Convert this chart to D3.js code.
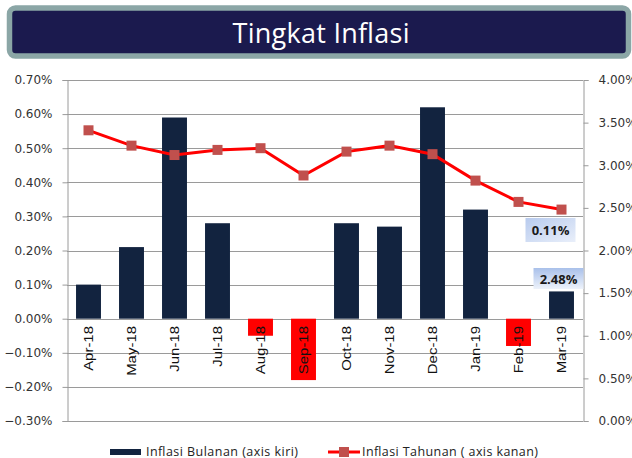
<!DOCTYPE html>
<html>
<head>
<meta charset="utf-8">
<script src="https://cdn.jsdelivr.net/npm/d3@7"></script>
<style>
  body { margin: 0; background: #fff; }
  svg { display: block; }
</style>
</head>
<body>
<div id="chart-area"></div>
<script>
// data
var months = ["Apr-18", "May-18", "Jun-18", "Jul-18", "Aug-18", "Sep-18",
              "Oct-18", "Nov-18", "Dec-18", "Jan-19", "Feb-19", "Mar-19"];
var monthly = [0.10, 0.21, 0.59, 0.28, -0.05, -0.18, 0.28, 0.27, 0.62, 0.32, -0.08, 0.08];
var annual = [3.41, 3.23, 3.12, 3.18, 3.20, 2.88, 3.16, 3.23, 3.13, 2.82, 2.57, 2.48];
var leftTicks = [-0.3, -0.2, -0.1, 0, 0.1, 0.2, 0.3, 0.4, 0.5, 0.6, 0.7];
var rightTicks = [0, 0.5, 1, 1.5, 2, 2.5, 3, 3.5, 4];
var notes = ["0.11%", "2.48%"];

var W = 632, H = 458;
var svg = d3.select("#chart-area").append("svg")
    .attr("width", W).attr("height", H);

var defs = svg.append("defs");
var g1 = defs.append("linearGradient").attr("id", "lab1")
    .attr("x1", 0).attr("y1", 0).attr("x2", 1).attr("y2", 1);
g1.append("stop").attr("offset", "0%").attr("stop-color", "#b8cbee");
g1.append("stop").attr("offset", "100%").attr("stop-color", "#e9effa");
var g2 = defs.append("linearGradient").attr("id", "lab2")
    .attr("x1", 0).attr("y1", 0).attr("x2", 0).attr("y2", 1);
g2.append("stop").attr("offset", "0%").attr("stop-color", "#a9c0ea");
g2.append("stop").attr("offset", "100%").attr("stop-color", "#eef3fb");

// title banner
svg.append("rect")
    .attr("x", 9.5).attr("y", 8)
    .attr("width", 619).attr("height", 48)
    .attr("rx", 6)
    .attr("fill", "#1b1a4e")
    .attr("stroke", "#8ba6a6").attr("stroke-width", 5.5);
svg.append("text")
    .attr("x", 321).attr("y", 43)
    .attr("text-anchor", "middle")
    .attr("font-family", "Open Sans")
    .attr("font-size", 27)
    .attr("fill", "#fff")
    .attr("textLength", 177)
    .text("Tingkat Inflasi");

var pL = 67, pR = 583, pT = 80, pB = 421;

var x = d3.scaleBand().domain(months).range([pL, pR]).paddingInner(0.42).paddingOuter(0.21);
var yL = d3.scaleLinear().domain([-0.3, 0.7]).range([pB, pT]);
var yR = d3.scaleLinear().domain([0, 4]).range([pB, pT]);

// gridlines
svg.append("g").selectAll("line").data(leftTicks).enter()
    .append("line")
    .attr("x1", pL).attr("x2", pR)
    .attr("y1", d => Math.round(yL(d)) + 0.5).attr("y2", d => Math.round(yL(d)) + 0.5)
    .attr("stroke", "#9a9a9a").attr("stroke-width", 1);

// bars
svg.append("g").selectAll("rect").data(monthly).enter()
    .append("rect")
    .attr("x", (d, i) => x(months[i]))
    .attr("width", x.bandwidth())
    .attr("y", d => yL(Math.max(0, d)))
    .attr("height", d => Math.abs(yL(d) - yL(0)))
    .attr("fill", d => d < 0 ? "#ff0000" : "#12233f");

// axes
var axL = svg.append("g").attr("transform", "translate(" + (pL + 0.5) + ",0)")
    .call(d3.axisLeft(yL).tickValues(leftTicks).tickSize(5).tickPadding(10)
        .tickFormat(d => d3.format(".2f")(d) + "%"));
var axR = svg.append("g").attr("transform", "translate(" + (pR + 0.5) + ",0)")
    .call(d3.axisRight(yR).tickValues(rightTicks).tickSize(5).tickPadding(10)
        .tickFormat(d => d3.format(".2f")(d) + "%"));
[axL, axR].forEach(a => {
    a.select(".domain").attr("stroke", "#9a9a9a");
    a.selectAll(".tick line").attr("stroke", "#9a9a9a");
    a.selectAll(".tick text")
        .attr("font-family", "DejaVu Sans").attr("font-size", 12).attr("fill", "#333");
});

// category labels
svg.append("g").selectAll("text").data(months).enter()
    .append("text")
    .attr("transform", d => "translate(" + (x(d) + x.bandwidth() / 2 + 4.5) + ",326) rotate(-90) scale(1.15,1)")
    .attr("text-anchor", "end")
    .attr("font-family", "Liberation Sans")
    .attr("font-size", 13)
    .attr("fill", "#111")
    .text(d => d);

// annual line
var line = d3.line()
    .x((d, i) => x(months[i]) + x.bandwidth() / 2)
    .y(d => yR(d));
svg.append("path").datum(annual)
    .attr("d", line)
    .attr("fill", "none")
    .attr("stroke", "#ff0000").attr("stroke-width", 3);
svg.append("g").selectAll("rect").data(annual).enter()
    .append("rect")
    .attr("x", (d, i) => x(months[i]) + x.bandwidth() / 2 - 5)
    .attr("y", d => yR(d) - 5)
    .attr("width", 10).attr("height", 10)
    .attr("fill", "#c0504d");

// annotation boxes
var last = months[months.length - 1];
var cx = x(last) + x.bandwidth() / 2;
svg.append("rect").attr("x", cx - 36).attr("y", 218).attr("width", 50).attr("height", 24)
    .attr("fill", "url(#lab1)");
svg.append("text").attr("x", cx - 11).attr("y", 235).attr("text-anchor", "middle")
    .attr("font-family", "Open Sans").attr("font-weight", "bold").attr("font-size", 13)
    .attr("fill", "#1a1a1a").text(notes[0]);
svg.append("rect").attr("x", cx - 28).attr("y", 268).attr("width", 50).attr("height", 21)
    .attr("fill", "url(#lab2)");
svg.append("text").attr("x", cx - 3).attr("y", 284).attr("text-anchor", "middle")
    .attr("font-family", "Open Sans").attr("font-weight", "bold").attr("font-size", 13)
    .attr("fill", "#1a1a1a").text(notes[1]);

// legend
var lg = svg.append("g").attr("font-family", "Open Sans").attr("font-size", 12.5).attr("fill", "#222");
lg.append("rect").attr("x", 110).attr("y", 449).attr("width", 31).attr("height", 6).attr("fill", "#12233f");
lg.append("text").attr("x", 146).attr("y", 456).attr("textLength", 152).text("Inflasi Bulanan (axis kiri)");
lg.append("line").attr("x1", 328).attr("x2", 360).attr("y1", 452).attr("y2", 452)
    .attr("stroke", "#ff0000").attr("stroke-width", 3);
lg.append("rect").attr("x", 339).attr("y", 447).attr("width", 10).attr("height", 10).attr("fill", "#c0504d");
lg.append("text").attr("x", 362).attr("y", 456).attr("textLength", 176).text("Inflasi Tahunan ( axis kanan)");
</script>
</body>
</html>
